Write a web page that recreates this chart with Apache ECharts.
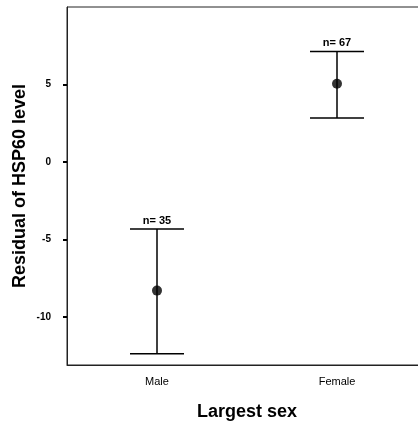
<!DOCTYPE html>
<html>
<head>
<meta charset="utf-8">
<script src="https://cdn.jsdelivr.net/npm/echarts@6/dist/echarts.min.js"></script>
<style>
  html, body { margin: 0; padding: 0; background: #fff; }
  #chart { width: 418px; height: 422px; }
</style>
</head>
<body>
<div id="chart"></div>
<script>
// Residual HSP60 level by largest sex: mean with interval bars
const categories = ['Male', 'Female'];
const means = [-8.3, 5.05];
const upper = [-4.33, 7.13];
const lower = [-12.38, 2.83];
const counts = [35, 67];
const yTicks = [-10, -5, 0, 5];

const chart = echarts.init(document.getElementById('chart'));

const barData = categories.map((c, i) => [i, lower[i], upper[i], counts[i]]);
const meanData = categories.map((c, i) => [i, means[i]]);

chart.setOption({
  animation: false,
  grid: {
    left: 67, top: 7, width: 360, height: 358,
    containLabel: false,
    outerBoundsMode: 'none',
    show: true, borderColor: '#222', borderWidth: 1,
    backgroundColor: 'transparent'
  },
  xAxis: {
    type: 'category',
    data: categories,
    boundaryGap: true,
    name: 'Largest sex',
    nameLocation: 'middle',
    nameGap: 38,
    nameTextStyle: { fontFamily: 'Liberation Sans', fontWeight: 'bold', fontSize: 18, color: '#000' },
    axisLine: { onZero: false, lineStyle: { color: '#222', width: 1 } },
    axisTick: { alignWithLabel: true, length: 5, lineStyle: { color: '#000', width: 2 } },
    axisLabel: { fontFamily: 'Liberation Sans', fontSize: 11, color: '#000', margin: 11 },
    splitLine: { show: false }
  },
  yAxis: {
    type: 'value',
    min: -13.1,
    max: 10,
    name: 'Residual of HSP60 level',
    nameLocation: 'middle',
    nameGap: 38,
    nameMoveOverlap: false,
    nameTextStyle: { fontFamily: 'Liberation Sans', fontWeight: 'bold', fontSize: 18, color: '#000' },
    axisLine: { show: true, onZero: false, lineStyle: { color: '#222', width: 1 } },
    axisTick: { show: true, customValues: yTicks, length: 4, lineStyle: { color: '#000', width: 2 } },
    axisLabel: {
      customValues: yTicks,
      fontFamily: 'Liberation Sans Narrow, Liberation Sans',
      fontWeight: 'bold', fontSize: 10, color: '#000', margin: 16
    },
    splitLine: { show: false }
  },
  series: [
    {
      type: 'custom',
      data: barData,
      renderItem: function (params, api) {
        const x = api.value(0);
        const lo = api.coord([x, api.value(1)]);
        const hi = api.coord([x, api.value(2)]);
        const half = 27;
        const style = { stroke: '#000', lineWidth: 1.5 };
        return {
          type: 'group',
          children: [
            { type: 'line', shape: { x1: lo[0], y1: lo[1], x2: hi[0], y2: hi[1] }, style: style },
            { type: 'line', shape: { x1: hi[0] - half, y1: hi[1], x2: hi[0] + half, y2: hi[1] }, style: style },
            { type: 'line', shape: { x1: lo[0] - half, y1: lo[1], x2: lo[0] + half, y2: lo[1] }, style: style },
            {
              type: 'text',
              style: {
                text: 'n= ' + api.value(3),
                x: hi[0], y: hi[1] - 3,
                align: 'center', verticalAlign: 'bottom',
                fontFamily: 'Liberation Sans', fontWeight: 'bold', fontSize: 11, fill: '#000'
              }
            }
          ]
        };
      },
      z: 2
    },
    {
      type: 'scatter',
      data: meanData,
      symbol: 'circle',
      symbolSize: 10,
      itemStyle: { color: '#000' },
      z: 3
    }
  ]
});
</script>
</body>
</html>
